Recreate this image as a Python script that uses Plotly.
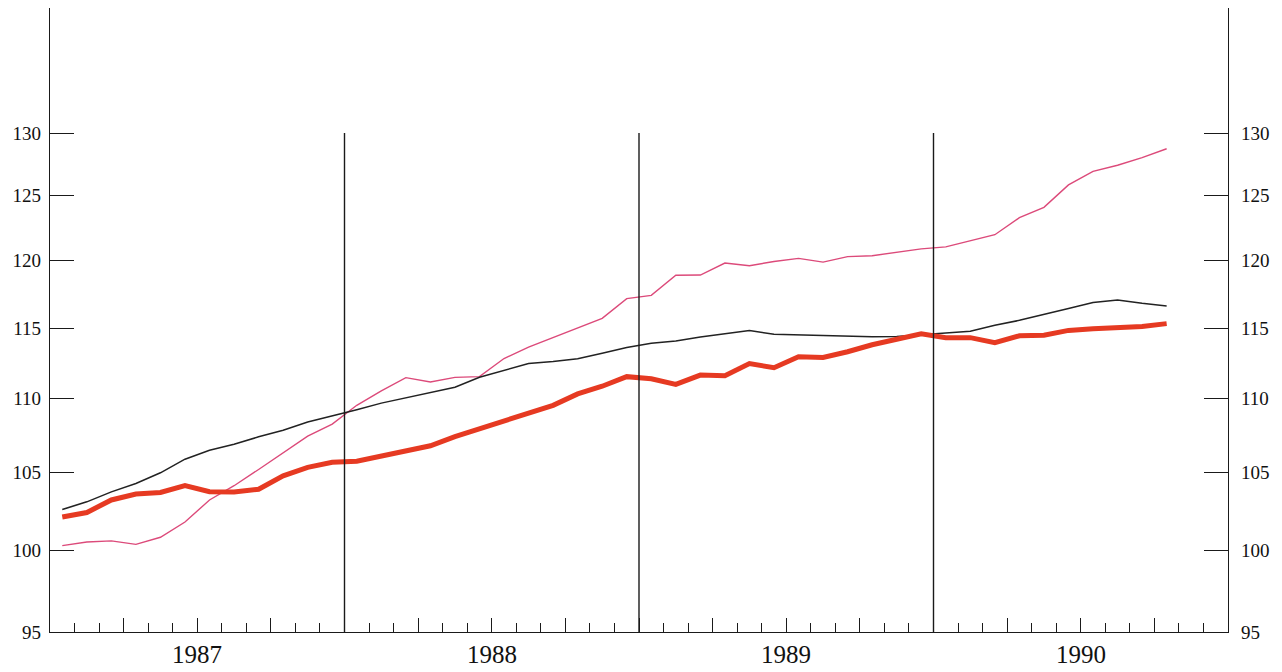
import plotly.graph_objects as go
import math

# Monthly series, Jan 1987 - Oct 1990 (index values)
months = [f"{y}-{m:02d}" for y in range(1987, 1991) for m in range(1, 13)][:46]
year_labels = ["1987", "1988", "1989", "1990"]
y_ticks = [95, 100, 105, 110, 115, 120, 125, 130]

black_series = [102.6, 103.1, 103.75, 104.3, 105.0, 105.9, 106.5, 106.9, 107.4, 107.85,
                108.4, 108.85, 109.25, 109.7, 110.05, 110.42, 110.8, 111.5, 112.0, 112.47,
                112.6, 112.8, 113.2, 113.6, 113.9, 114.07, 114.35, 114.6, 114.83, 114.55,
                114.5, 114.44, 114.4, 114.37, 114.4, 114.5, 114.65, 114.77, 115.2, 115.56,
                115.97, 116.43, 116.87, 117.04, 116.8, 116.6]

red_series = [102.12, 102.41, 103.22, 103.61, 103.71, 104.16, 103.76, 103.74, 103.92, 104.8,
              105.36, 105.7, 105.76, 106.1, 106.44, 106.8, 107.42, 107.96, 108.49, 109.0,
              109.55, 110.34, 110.87, 111.54, 111.39, 111.0, 111.65, 111.6, 112.46, 112.17,
              112.95, 112.9, 113.3, 113.8, 114.23, 114.58, 114.31, 114.31, 113.95, 114.44,
              114.48, 114.83, 114.95, 115.0, 115.12, 115.32]

pink_series = [100.3, 100.53, 100.6, 100.38, 100.83, 101.8, 103.22, 104.15, 105.22, 106.35,
               107.45, 108.26, 109.55, 110.55, 111.47, 111.17, 111.49, 111.54, 112.82, 113.63,
               114.3, 114.97, 115.7, 117.15, 117.39, 118.88, 118.9, 119.8, 119.6, 119.91,
               120.15, 119.87, 120.28, 120.35, 120.6, 120.87, 121.02, 121.49, 121.95, 123.26,
               124.07, 125.83, 126.91, 127.39, 128.0, 128.72]

# month index positions (centre of each month)
xpos = [i + 0.5 for i in range(len(months))]

FONT = "Liberation Serif"
AX = "#1a1a1a"
y_lo = math.log10(95)
y_hi = y_lo + 624 / 3663.0

fig = go.Figure()
fig.add_trace(go.Scatter(x=xpos, y=pink_series, mode="lines", text=months,
                         line=dict(color="#dc4a7a", width=1.4), showlegend=False))
fig.add_trace(go.Scatter(x=xpos, y=black_series, mode="lines", text=months,
                         line=dict(color="#222222", width=1.5), showlegend=False))
fig.add_trace(go.Scatter(x=xpos, y=red_series, mode="lines", text=months,
                         line=dict(color="#e63a22", width=5), showlegend=False,
                         yaxis="y2"))

# year separator lines
for k in (12, 24, 36):
    fig.add_shape(type="line", x0=k, x1=k, y0=95, y1=130, xref="x", yref="y",
                  line=dict(color=AX, width=1.4))

for j, lab in enumerate(year_labels):
    fig.add_annotation(x=6 + 12 * j, y=0, xref="x", yref="paper", text=lab,
                       showarrow=False, yanchor="middle", yshift=-22,
                       font=dict(family=FONT, size=25, color="#111"))

yax = dict(type="log", range=[y_lo, y_hi], tickvals=y_ticks,
           ticktext=[str(v) for v in y_ticks], ticks="inside", ticklen=24,
           tickwidth=1.4, tickcolor=AX, showline=True, linecolor=AX, linewidth=1.4,
           showgrid=False, zeroline=False,
           tickfont=dict(family=FONT, size=19, color="#111"))

fig.update_layout(
    width=1266, height=664,
    margin=dict(l=42, r=46, t=0, b=40),
    paper_bgcolor="white", plot_bgcolor="white",
    xaxis=dict(range=[0, 48], tickmode="linear", tick0=0, dtick=3, ticks="inside",
               ticklen=14, tickwidth=1.4, tickcolor=AX, showticklabels=False,
               showline=True, linecolor=AX, linewidth=1.4, showgrid=False,
               zeroline=False,
               minor=dict(dtick=1, tick0=0, ticks="inside", ticklen=9,
                          tickwidth=1.4, tickcolor=AX, showgrid=False)),
    yaxis=dict(side="left", ticklabelstandoff=4, **yax),
    yaxis2=dict(side="right", overlaying="y", anchor="x", ticklabelstandoff=8, **yax),
)

fig.write_html("out.html")
